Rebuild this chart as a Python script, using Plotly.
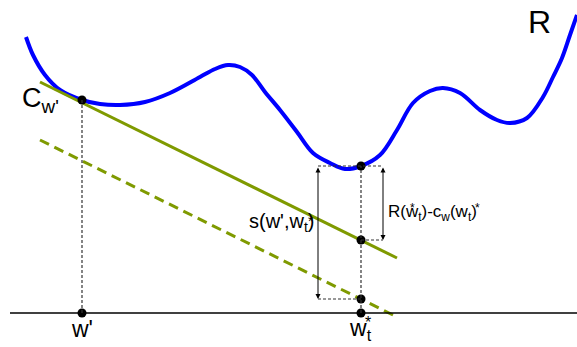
import plotly.graph_objects as go

# Blue curve R (x, height above the w axis)
curve_x = [26, 33, 45, 60, 82, 100, 120, 145, 170, 200, 215, 228, 240, 252, 265, 280, 297, 313,
           330, 345, 361, 380, 397, 413, 430, 443, 460, 480, 497, 510, 527, 543, 553, 562, 570, 577]
curve_py = [37, 55, 75, 90, 100, 104, 105, 102, 93, 77, 69, 65, 67, 75, 92, 110, 132, 153,
            163, 169, 166, 155, 130, 103, 91, 88, 93, 110, 120, 123, 118, 97, 77, 58, 35, 15]
AXIS = 313
curve_y = [AXIS - v for v in curve_py]

# Lower bound lines (solid c_w', dashed shifted)
line_x = [40, 397]
solid_y = [AXIS - 82, AXIS - 258]
dashed_y = [AXIS - 140, AXIS - 317]

w_prime = 82
w_star = 361
pt_tangent = AXIS - 100
pt_rstar = AXIS - 166
pt_solid = AXIS - 240
pt_dash = AXIS - 299

OLIVE = "#7f9a00"
FONT = "Liberation Sans, Arial, sans-serif"

fig = go.Figure()
fig.add_trace(go.Scatter(x=curve_x, y=curve_y, mode="lines",
                         line=dict(color="#0000ff", width=4, shape="spline", smoothing=1.0),
                         hoverinfo="skip"))
fig.add_trace(go.Scatter(x=line_x, y=solid_y, mode="lines",
                         line=dict(color=OLIVE, width=3)))
fig.add_trace(go.Scatter(x=line_x, y=dashed_y, mode="lines",
                         line=dict(color=OLIVE, width=3, dash="10px,6px")))

dot_line = dict(color="#333333", width=1.2, dash="3px,2px")
shapes = [
    dict(type="line", x0=10, x1=577, y0=0, y1=0, line=dict(color="black", width=1.5)),
    dict(type="line", x0=w_prime, x1=w_prime, y0=0, y1=pt_tangent, line=dot_line),
    dict(type="line", x0=w_star, x1=w_star, y0=0, y1=pt_rstar, line=dot_line),
    dict(type="line", x0=318, x1=383, y0=pt_rstar, y1=pt_rstar, line=dot_line),
    dict(type="line", x0=w_star, x1=383, y0=pt_solid, y1=pt_solid, line=dot_line),
    dict(type="line", x0=318, x1=w_star, y0=pt_dash, y1=pt_dash, line=dot_line),
]
fig.update_layout(shapes=shapes)

fig.add_trace(go.Scatter(x=[w_prime, w_star, w_star, w_star, w_prime, w_star],
                         y=[pt_tangent, pt_rstar, pt_solid, pt_dash, 0, 0],
                         mode="markers", marker=dict(color="black", size=9)))

ann = []
def arrow(x, y0, y1):
    ann.append(dict(x=x, y=y1, ax=x, ay=y0, xref="x", yref="y", axref="x", ayref="y",
                    text="", showarrow=True, arrowhead=2, arrowsize=1, arrowwidth=1,
                    arrowside="end+start", arrowcolor="black", standoff=0, startstandoff=0))
arrow(318, pt_rstar, pt_dash)
arrow(383, pt_rstar, pt_solid)

def txt(x, y, t, size, xanchor="center"):
    ann.append(dict(x=x, y=y, xref="x", yref="y", text=t, showarrow=False,
                    xanchor=xanchor, yanchor="middle",
                    font=dict(family=FONT, size=size, color="black")))

txt(539, AXIS - 22, "R", 32)
txt(20, AXIS - 100, "C<sub>w'</sub>", 27, "left")
txt(82, AXIS - 329, "w'", 23)
txt(360, AXIS - 329, "w<sub>t</sub>", 23)
txt(368, AXIS - 322, "*", 16)
txt(316, AXIS - 222, "s(w',w<sub>t</sub>)", 20, "right")
txt(311, AXIS - 221, "*", 14)
txt(386, AXIS - 213, "R(w<sub>t</sub>)-c<sub>w</sub>(w<sub>t</sub>)", 17, "left")
txt(412, AXIS - 208, "*", 12)
txt(477, AXIS - 208, "*", 12)
fig.update_layout(annotations=ann)

fig.update_layout(
    width=577, height=347, margin=dict(l=0, r=0, t=0, b=0),
    plot_bgcolor="white", paper_bgcolor="white", showlegend=False,
    xaxis=dict(range=[0, 577], visible=False, fixedrange=True),
    yaxis=dict(range=[AXIS - 347, AXIS], visible=False, fixedrange=True),
)
fig.write_html("out.html", config={"displayModeBar": False},
               post_script="document.body.style.margin='0';document.body.style.overflow='hidden';")
